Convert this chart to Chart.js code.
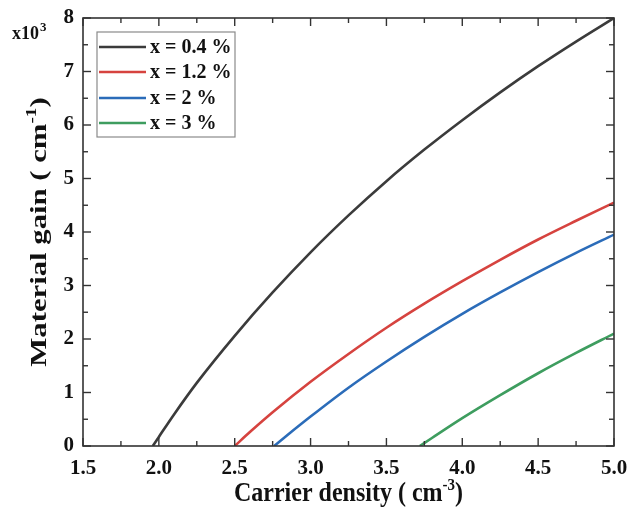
<!DOCTYPE html>
<html>
<head>
<meta charset="utf-8">
<script src="https://cdn.jsdelivr.net/npm/chart.js@4.4.1/dist/chart.umd.min.js"></script>
<style>
    html, body { margin: 0; padding: 0; background: #fff; }
</style>
</head>
<body>
<canvas id="chart" width="630" height="510"></canvas>
<script>
// series labels (x = composition)
const seriesLabels = ["x = 0.4 %", "x = 1.2 %", "x = 2 %", "x = 3 %"];

// carrier density (x) and material gain (x10^3 cm-1)
const density04 = [1.96, 2.0, 2.1, 2.25, 2.5, 2.75, 3.0, 3.25, 3.5, 3.75, 4.0, 4.25, 4.5, 4.75, 5.0];
const gain04 = [0, 0.17, 0.59, 1.18, 2.06, 2.87, 3.62, 4.31, 4.95, 5.54, 6.09, 6.61, 7.10, 7.56, 8.0];

const density12 = [2.5, 2.6, 2.75, 3.0, 3.25, 3.5, 3.75, 4.0, 4.25, 4.5, 4.75, 5.0];
const gain12 = [0, 0.26, 0.63, 1.20, 1.72, 2.21, 2.66, 3.08, 3.48, 3.86, 4.21, 4.55];

const density2 = [2.76, 2.85, 3.0, 3.25, 3.5, 3.75, 4.0, 4.25, 4.5, 4.75, 5.0];
const gain2 = [0, 0.21, 0.55, 1.09, 1.58, 2.04, 2.47, 2.87, 3.25, 3.61, 3.95];

const density3 = [3.72, 3.8, 4.0, 4.25, 4.5, 4.75, 5.0];
const gain3 = [0, 0.15, 0.52, 0.95, 1.36, 1.74, 2.1];

// tick labels
const xTicks = [1.5, 2.0, 2.5, 3.0, 3.5, 4.0, 4.5, 5.0];
const yTicks = [0, 1, 2, 3, 4, 5, 6, 7, 8];

const lineColors = ["#3b3b3b", "#d6433f", "#2b6cb9", "#3e9d5f"];
const serif = "'Liberation Serif', 'Times New Roman', serif";

function toPoints(xs, ys) {
    return xs.map((x, i) => ({ x: x, y: ys[i] }));
}

const allX = [density04, density12, density2, density3];
const allY = [gain04, gain12, gain2, gain3];

const datasets = seriesLabels.map((label, i) => ({
    label: label,
    data: toPoints(allX[i], allY[i]),
    showLine: true,
    borderColor: lineColors[i],
    backgroundColor: lineColors[i],
    borderWidth: 2.6,
    pointRadius: 0,
    cubicInterpolationMode: "monotone"
}));

// frame, inward ticks, axis titles and legend
const decorations = {
    id: "decorations",
    afterDraw(chart) {
        const ctx = chart.ctx;
        const area = chart.chartArea;
        const xs = chart.scales.x;
        const ys = chart.scales.y;
        ctx.save();
        ctx.strokeStyle = "#333";
        ctx.lineWidth = 1.6;
        ctx.strokeRect(area.left, area.top, area.right - area.left, area.bottom - area.top);

        // x ticks (major every 0.5, minor between)
        ctx.lineWidth = 1.4;
        for (let i = 0; i < xTicks.length; i++) {
            const px = xs.getPixelForValue(xTicks[i]);
            drawTick(ctx, px, area.bottom, px, area.bottom - 8);
            drawTick(ctx, px, area.top, px, area.top + 8);
            if (i < xTicks.length - 1) {
                const mx = xs.getPixelForValue((xTicks[i] + xTicks[i + 1]) / 2);
                drawTick(ctx, mx, area.bottom, mx, area.bottom - 5);
                drawTick(ctx, mx, area.top, mx, area.top + 5);
            }
        }
        // y ticks (major every 1, minor between)
        for (let i = 0; i < yTicks.length; i++) {
            const py = ys.getPixelForValue(yTicks[i]);
            drawTick(ctx, area.left, py, area.left + 8, py);
            drawTick(ctx, area.right, py, area.right - 8, py);
            if (i < yTicks.length - 1) {
                const my = ys.getPixelForValue((yTicks[i] + yTicks[i + 1]) / 2);
                drawTick(ctx, area.left, my, area.left + 5, my);
                drawTick(ctx, area.right, my, area.right - 5, my);
            }
        }

        ctx.fillStyle = "#111";
        // x axis title
        const cx = (area.left + area.right) / 2;
        ctx.save();
        ctx.translate(cx, 501);
        ctx.scale(1, 1.1);
        drawSupText(ctx, "Carrier density ( cm", "-3", ")", 0, 0, 24, true);
        ctx.restore();

        // y axis title (rotated, stretched along the axis like the original)
        ctx.save();
        ctx.translate(46, (area.top + area.bottom) / 2);
        ctx.rotate(-Math.PI / 2);
        ctx.scale(1.28, 1);
        drawSupText(ctx, "Material gain ( cm", "-1", ")", 0, 0, 24, true);
        ctx.restore();

        // multiplier
        ctx.textAlign = "left";
        ctx.textBaseline = "alphabetic";
        ctx.font = "bold 18px " + serif;
        ctx.fillText("x10", 12, 39);
        const w = ctx.measureText("x10").width;
        ctx.font = "bold 13px " + serif;
        ctx.fillText("3", 12 + w + 1, 31);

        // legend
        ctx.strokeStyle = "#8a8a8a";
        ctx.lineWidth = 1.2;
        ctx.strokeRect(97, 32, 138, 105);
        const rowY = [47, 72, 98, 123];
        chart.data.datasets.forEach((ds, i) => {
            ctx.strokeStyle = ds.borderColor;
            ctx.lineWidth = 2.6;
            ctx.beginPath();
            ctx.moveTo(99, rowY[i]);
            ctx.lineTo(146, rowY[i]);
            ctx.stroke();
            ctx.fillStyle = "#111";
            ctx.font = "bold 20px " + serif;
            ctx.textBaseline = "middle";
            ctx.textAlign = "left";
            ctx.fillText(ds.label, 150, rowY[i] + 1);
        });
        ctx.restore();
    }
};

function drawTick(ctx, x1, y1, x2, y2) {
    ctx.beginPath();
    ctx.moveTo(x1, y1);
    ctx.lineTo(x2, y2);
    ctx.stroke();
}

// text with a superscript part, centred at (cx, baseline)
function drawSupText(ctx, main, sup, tail, cx, baseline, size, bold) {
    const f = (bold ? "bold " : "") + size + "px " + serif;
    const fs = (bold ? "bold " : "") + Math.round(size * 0.62) + "px " + serif;
    ctx.textBaseline = "alphabetic";
    ctx.textAlign = "left";
    ctx.font = f;
    const w1 = ctx.measureText(main).width;
    const w3 = ctx.measureText(tail).width;
    ctx.font = fs;
    const w2 = ctx.measureText(sup).width;
    let x = cx - (w1 + w2 + w3) / 2;
    ctx.font = f;
    ctx.fillText(main, x, baseline);
    x += w1;
    ctx.font = fs;
    ctx.fillText(sup, x, baseline - size * 0.42);
    x += w2;
    ctx.font = f;
    ctx.fillText(tail, x, baseline);
}

const ctx = document.getElementById("chart").getContext("2d");
const chart = new Chart(ctx, {
    type: "scatter",
    data: { datasets: datasets },
    options: {
        responsive: false,
        animation: false,
        layout: { padding: { left: 0, top: 18, right: 16, bottom: 0 } },
        plugins: {
            legend: { display: false },
            tooltip: { enabled: false }
        },
        scales: {
            x: {
                type: "linear",
                min: 1.5,
                max: 5.0,
                afterBuildTicks: s => { s.ticks = xTicks.map(v => ({ value: v })); },
                afterFit: s => { s.height = 64; },
                grid: { display: false },
                border: { display: false },
                ticks: {
                    color: "#111",
                    padding: 2,
                    maxRotation: 0,
                    autoSkip: false,
                    font: { family: serif, size: 21, weight: "bold" },
                    callback: v => v.toFixed(1)
                }
            },
            y: {
                type: "linear",
                min: 0,
                max: 8,
                afterBuildTicks: s => { s.ticks = yTicks.map(v => ({ value: v })); },
                afterFit: s => { s.width = 83; },
                grid: { display: false },
                border: { display: false },
                ticks: {
                    color: "#111",
                    padding: 1,
                    autoSkip: false,
                    font: { family: serif, size: 21, weight: "bold" },
                    callback: v => String(v)
                }
            }
        }
    },
    plugins: [decorations]
});
</script>
</body>
</html>
